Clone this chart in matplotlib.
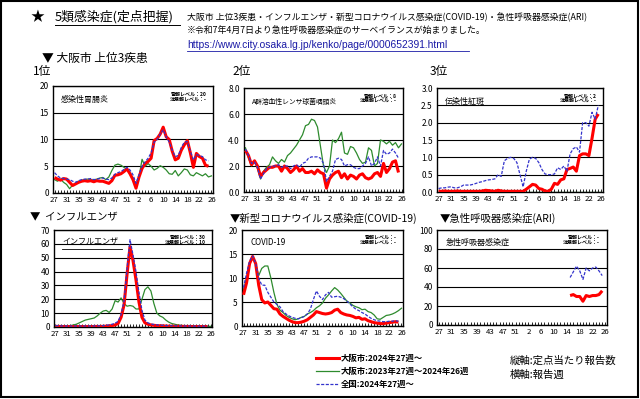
import matplotlib
matplotlib.use("Agg")
import matplotlib.pyplot as plt
from matplotlib.lines import Line2D
from matplotlib.patches import Rectangle

plt.rcParams['font.family'] = ['Noto Sans CJK JP', 'DejaVu Sans']

weeks = [27, 28, 29, 30, 31, 32, 33, 34, 35, 36, 37, 38, 39, 40, 41, 42, 43, 44, 45, 46,
         47, 48, 49, 50, 51, 52, 53, 1, 2, 3, 4, 5, 6, 7, 8, 9, 10, 11, 12, 13,
         14, 15, 16, 17, 18, 19, 20, 21, 22, 23, 24, 25, 26]

# 1位 感染性胃腸炎
p1_red = [2.9, 2.6, 2.4, 2.7, 2.6, 2.0, 1.4, 1.7, 2.0, 2.2,
          2.3, 2.2, 2.3, 2.1, 2.3, 2.2, 2.2, 2.0, 1.8, 2.3,
          3.3, 3.4, 3.6, 4.0, 4.5, 3.6, 2.5, 0.9, 3.0, 4.6,
          5.5, 5.9, 6.5, 9.8, 10.2, 11.0, 12.3, 10.5, 10.0, 7.8,
          6.2, 6.5, 8.0, 9.0, 9.8, 7.5, 4.8, 7.4, 6.8, 6.5, 5.2, 5.0]
p1_blue = [3.8, 3.2, 2.8, 2.7, 2.6, 2.5, 2.2, 2.0, 2.3, 2.5,
           2.6, 2.6, 2.7, 2.5, 2.6, 2.7, 2.8, 2.6, 2.5, 2.8,
           3.5, 3.8, 4.0, 4.4, 4.8, 4.3, 3.4, 1.8, 3.4, 5.0,
           5.8, 6.5, 7.5, 9.5, 10.0, 11.0, 11.8, 10.5, 9.5, 8.0,
           6.8, 7.0, 8.5, 9.5, 9.6, 7.8, 6.2, 7.2, 7.0, 6.8, 6.2, 6.0]
p1_green = [2.5, 2.2, 2.6, 2.0, 1.6, 0.8, 1.5, 1.8, 2.2, 2.4,
            2.5, 2.6, 2.5, 2.4, 2.6, 2.8, 2.9, 2.5, 3.0, 4.2,
            5.2, 5.4, 5.2, 4.8, 4.4, 3.6, 2.5, 1.3, 3.0, 6.3,
            5.0, 5.5, 5.0, 4.3, 4.6, 5.1, 4.8, 4.3, 3.6, 3.5,
            4.2, 3.2, 3.8, 4.5, 4.3, 3.4, 3.2, 3.8, 3.5, 3.2, 3.6, 3.0, 3.2]

# 2位 A群溶血性レンサ球菌咽頭炎
p2_red = [3.2, 2.8, 2.1, 2.4, 2.0, 1.2, 1.5, 1.7, 1.9, 1.9,
          2.0, 2.0, 1.6, 2.0, 1.8, 1.5, 1.7, 2.0, 1.6, 1.8,
          1.5, 1.5, 1.6, 1.4, 1.7, 1.5, 1.4, 0.3, 1.0, 1.3,
          1.5, 1.6, 1.1, 1.4, 1.0, 1.3, 1.2, 1.0, 1.3, 1.4,
          1.1, 1.0, 1.1, 1.4, 1.5, 1.2, 2.2, 1.5, 1.8, 2.3, 2.4, 1.5]
p2_blue = [3.3, 2.8, 2.2, 2.3, 1.9, 1.0, 1.4, 1.8, 1.9, 2.0,
           2.0, 2.1, 1.9, 2.0, 2.0, 1.8, 2.0, 2.1, 1.9, 2.2,
           2.3, 2.6, 2.7, 2.7, 2.7, 2.6, 2.2, 0.8, 1.2, 1.6,
           2.5, 2.6, 2.5, 2.0, 2.1, 2.1, 1.9, 1.8, 1.8, 2.0,
           2.2, 2.7, 2.0, 2.2, 2.7, 2.0, 3.2, 2.9, 3.0, 3.3, 3.0, 2.6]
p2_green = [3.4, 2.6, 2.0, 2.4, 1.8, 1.0, 1.6, 1.9, 2.1, 2.7,
            2.4, 2.2, 2.5, 2.3, 2.8, 3.0, 3.3, 3.6, 4.0, 4.4,
            5.1, 5.2, 5.6, 5.5, 5.0, 3.5, 2.0, 1.5, 2.0, 4.0,
            3.8, 4.1, 4.6, 3.0, 2.9, 3.5, 3.4, 3.0, 2.5, 2.2,
            2.3, 3.4, 3.2, 2.0, 2.2, 4.0, 3.9, 3.7, 3.9, 3.6, 3.8, 3.4, 3.7]

# 3位 伝染性紅斑
p3_red = [0.02, 0.02, 0.03, 0.02, 0.02, 0.02, 0.03, 0.02, 0.02, 0.02,
          0.02, 0.02, 0.02, 0.02, 0.03, 0.05, 0.04, 0.03, 0.02, 0.05,
          0.03, 0.02, 0.02, 0.02, 0.02, 0.02, 0.02, 0.02, 0.08, 0.15,
          0.22, 0.20, 0.10, 0.08, 0.03, 0.02, 0.08, 0.25, 0.22, 0.35,
          0.38, 0.65, 0.68, 0.72, 0.60, 1.05, 1.10, 1.10, 1.05, 1.55, 2.10, 2.25]
p3_blue = [0.10, 0.12, 0.12, 0.14, 0.15, 0.12, 0.12, 0.15, 0.20, 0.20,
           0.20, 0.22, 0.25, 0.28, 0.30, 0.33, 0.35, 0.36, 0.38, 0.50,
           0.45, 0.90, 0.97, 1.00, 0.97, 0.85, 0.50, 0.15, 0.60, 0.95,
           1.00, 0.97, 0.85, 0.65, 0.52, 0.50, 0.50, 0.52, 0.70, 0.65,
           0.75, 0.60, 1.10, 1.25, 1.30, 1.15, 2.00, 2.00, 1.90, 2.30, 2.10, 2.50]
p3_green = [0.0, 0.0, 0.0, 0.0, 0.0, 0.0, 0.0, 0.0, 0.0, 0.0,
            0.0, 0.0, 0.0, 0.0, 0.0, 0.0, 0.0, 0.0, 0.0, 0.0,
            0.0, 0.0, 0.0, 0.0, 0.0, 0.0, 0.0, 0.0, 0.0, 0.0,
            0.0, 0.0, 0.0, 0.0, 0.0, 0.0, 0.0, 0.0, 0.0, 0.0,
            0.0, 0.0, 0.0, 0.0, 0.0, 0.0, 0.0, 0.0, 0.0, 0.0, 0.0, 0.0, 0.0]

# インフルエンザ
flu_red = [0.5, 0.4, 0.4, 0.3, 0.3, 0.3, 0.3, 0.3, 0.3, 0.3,
           0.3, 0.3, 0.3, 0.4, 0.4, 0.4, 0.5, 0.6, 0.8, 1.0,
           1.5, 2.5, 7.0, 16.0, 38.0, 58.0, 48.0, 34.0, 18.0, 7.0,
           3.0, 2.0, 1.5, 1.2, 1.0, 0.9, 0.8, 0.7, 0.6, 0.6,
           0.5, 0.5, 0.5, 0.4, 0.4, 0.4, 0.3, 0.3, 0.3, 0.3, 0.3, 0.3]
flu_blue = [1.0, 0.9, 0.8, 0.7, 0.7, 0.7, 0.7, 0.7, 0.7, 0.7,
            0.7, 0.7, 0.7, 0.8, 0.8, 0.9, 1.0, 1.2, 1.5, 2.0,
            2.8, 4.0, 9.0, 19.0, 42.0, 63.0, 52.0, 40.0, 25.0, 12.0,
            5.0, 3.0, 2.2, 1.8, 1.5, 1.3, 1.2, 1.0, 1.0, 0.9,
            0.9, 0.8, 0.8, 0.7, 0.7, 0.7, 0.6, 0.6, 0.6, 0.6, 0.6, 0.6]
flu_green = [0.5, 0.5, 0.5, 0.6, 0.8, 1.0, 1.5, 2.0, 3.0, 4.0,
             5.0, 5.5, 6.0, 6.5, 8.0, 10.0, 11.5, 12.0, 10.5, 13.0,
             19.0, 18.0, 21.0, 17.0, 15.0, 15.5, 15.0, 13.0, 13.0, 20.0,
             27.0, 29.0, 26.0, 17.0, 10.0, 8.0, 7.0, 5.0, 3.5, 2.5,
             2.0, 1.5, 1.2, 1.0, 1.0, 0.8, 0.8, 0.7, 0.6, 0.6, 0.5, 0.5, 0.5]

# COVID-19
cov_red = [6.5, 9.0, 13.0, 14.5, 13.0, 8.5, 5.5, 4.8, 5.0, 4.3,
           3.6, 3.5, 2.5, 2.0, 1.6, 1.2, 0.9, 0.7, 0.7, 0.8,
           1.0, 1.3, 1.8, 2.3, 3.0, 2.8, 2.6, 2.5, 2.6, 2.8,
           3.3, 3.5, 2.8, 2.5, 2.3, 2.2, 2.0, 1.7, 1.8, 1.4,
           1.5, 1.1, 0.9, 0.7, 0.6, 0.5, 0.5, 0.6, 0.7, 0.8, 0.9, 0.8]
cov_blue = [8.0, 11.0, 13.5, 14.6, 13.0, 10.0, 8.5, 8.5, 7.0, 6.0,
            5.0, 4.5, 4.0, 3.0, 2.5, 2.1, 1.8, 1.6, 1.5, 1.7,
            2.0, 2.5, 3.5, 5.5, 7.3, 6.2, 5.5, 6.5, 7.0, 6.0,
            6.1, 6.2, 6.0, 5.7, 5.2, 4.6, 4.0, 3.5, 3.2, 2.8,
            2.5, 2.0, 1.6, 1.3, 1.1, 1.0, 0.9, 0.9, 1.0, 1.0, 1.1, 1.0]
cov_green = [7.5, 10.0, 13.0, 14.5, 13.0, 10.5, 12.0, 12.5, 12.5, 10.0,
             7.0, 4.5, 3.3, 2.8, 2.2, 1.8, 1.5, 1.3, 1.5, 1.8,
             2.0, 2.5, 2.8, 3.2, 3.8, 4.2, 4.8, 5.8, 6.5, 7.3,
             8.0, 7.5, 6.8, 6.0, 5.2, 4.8, 4.3, 4.0, 3.8, 3.4,
             3.5, 3.0, 2.8, 2.3, 1.5, 1.4, 1.8, 2.2, 2.3, 2.5, 2.8, 3.2, 3.7]

# 急性呼吸器感染症 (ARI) - surveillance from week 15
ari_weeks = [15, 16, 17, 18, 19, 20, 21, 22, 23, 24, 25]
ari_red = [31, 32, 30, 30, 25, 31, 30, 31, 31, 32, 36]
ari_blue = [50, 56, 62, 57, 48, 60, 57, 60, 61, 57, 52]

RED = '#ff0000'
GREEN = '#2e8b2e'
BLUE = '#3333cc'

W, H = 640, 399
fig = plt.figure(figsize=(6.4, 3.99), dpi=100)


def rect(x0, y0, x1, y1):
    return [x0 / W, 1 - y1 / H, (x1 - x0) / W, (y1 - y0) / H]


def panel(r, ymax, ystep, fmt, red, blue, green, name, alert, start=0,
          underline=False, name_size=5.8):
    ax = fig.add_axes(rect(*r))
    n = len(weeks)
    if green is not None:
        ax.plot(list(range(len(green))), green, color=GREEN, lw=0.9, zorder=2)
    xr = list(range(start, start + len(red)))
    ax.plot(xr, red, color=RED, lw=2.2, zorder=3, solid_capstyle='butt')
    xb = list(range(start, start + len(blue)))
    ax.plot(xb, blue, color=BLUE, lw=0.9, ls=(0, (2.5, 1.2)), zorder=4)
    ax.set_xlim(-0.5, n - 0.5)
    ax.set_ylim(0, ymax)
    yt = [i * ystep for i in range(int(round(ymax / ystep)) + 1)]
    ax.set_yticks(yt)
    ax.set_yticklabels([fmt.format(v) for v in yt], fontsize=6)
    ax.set_xticks(list(range(0, n, 4)))
    ax.set_xticklabels([str(weeks[i]) for i in range(0, n, 4)], fontsize=5.6)
    ax.set_xticks(list(range(n)), minor=True)
    ax.tick_params(axis='x', which='both', direction='in', length=2, width=0.6, pad=2)
    ax.tick_params(axis='y', length=0, pad=3)
    ax.yaxis.grid(True, color='black', lw=0.8)
    ax.set_axisbelow(True)
    for s in ax.spines.values():
        s.set_color('black')
        s.set_linewidth(1.0)
    ax.text(0.05, 0.87, name, transform=ax.transAxes, fontsize=name_size, va='center', ha='left')
    if underline:
        ax.plot([0.05, 0.43], [0.80, 0.80], transform=ax.transAxes, color='black', lw=0.6)
    ax.text(0.96, 0.90, alert, transform=ax.transAxes, fontsize=3.6, va='center', ha='right',
            fontweight='bold', linespacing=0.9)
    return ax


panel((53, 86, 213, 193), 20, 5, '{:.0f}', p1_red, p1_blue, p1_green,
      '感染性胃腸炎', '警報レベル：20\n注意報レベル：-')
panel((244, 88, 403, 192), 8.0, 2.0, '{:.1f}', p2_red, p2_blue, p2_green,
      'A群溶血性レンサ球菌咽頭炎', '警報レベル：8\n注意報レベル：-', name_size=4.9)
panel((437, 88, 603, 192), 3.0, 0.5, '{:.1f}', p3_red, p3_blue, p3_green,
      '伝染性紅斑', '警報レベル：2\n注意報レベル：-')
panel((54, 230, 212, 327), 70, 10, '{:.0f}', flu_red, flu_blue, flu_green,
      'インフルエンザ', '警報レベル：30\n注意報レベル：10', underline=True)
panel((242, 230, 403, 326), 20, 5, '{:.0f}', cov_red, cov_blue, cov_green,
      'COVID-19', '警報レベル：-\n注意報レベル：-')
panel((437, 230, 607, 325), 100, 20, '{:.0f}', ari_red, ari_blue, None,
      '急性呼吸器感染症', '警報レベル：-\n注意報レベル：-', start=weeks.index(ari_weeks[0], 27))


def ftext(x, y, s, **kw):
    return fig.text(x / W, 1 - y / H, s, **kw)


# header
ftext(37, 17, '★', fontsize=10, va='center', ha='center')
ftext(55, 17, '5類感染症(定点把握)', fontsize=9.3, va='center', ha='left')
fig.add_artist(Line2D([55 / W, 180 / W], [1 - 25 / H, 1 - 25 / H], color='black', lw=0.7))
ftext(187, 17, '大阪市 上位3疾患・インフルエンザ・新型コロナウイルス感染症(COVID-19)・急性呼吸器感染症(ARI)',
      fontsize=6.4, va='center', ha='left')
ftext(187, 31, '※令和7年4月7日より急性呼吸器感染症のサーベイランスが始まりました。',
      fontsize=6.4, va='center', ha='left')
ftext(187, 45, 'https://www.city.osaka.lg.jp/kenko/page/0000652391.html',
      fontsize=7.4, va='center', ha='left', color='#1a1aa6', family=['Liberation Sans', 'DejaVu Sans'])
fig.add_artist(Line2D([187 / W, 469 / W], [1 - 51 / H, 1 - 51 / H], color='#1a1aa6', lw=0.6))

ftext(42, 58, '▼ 大阪市 上位3疾患', fontsize=8.5, va='center', ha='left')
ftext(33, 72, '1位', fontsize=8.5, va='center', ha='left')
ftext(232, 72, '2位', fontsize=8.5, va='center', ha='left')
ftext(430, 72, '3位', fontsize=8.5, va='center', ha='left')
ftext(30, 217, '▼  インフルエンザ', fontsize=7.5, va='center', ha='left')
ftext(230, 218, '▼新型コロナウイルス感染症(COVID-19)', fontsize=7.5, va='center', ha='left')
ftext(440, 218, '▼急性呼吸器感染症(ARI)', fontsize=7.5, va='center', ha='left')

# legend
handles = [Line2D([], [], color=RED, lw=2.2),
           Line2D([], [], color=GREEN, lw=0.9),
           Line2D([], [], color=BLUE, lw=0.9, ls=(0, (2.5, 1.2)))]
labels = ['大阪市:2024年27週～', '大阪市:2023年27週～2024年26週', '全国:2024年27週～']
fig.legend(handles, labels, loc='upper left', bbox_to_anchor=(316 / W, 1 - 354 / H),
           frameon=False, handlelength=2.7, handletextpad=0.3,
           labelspacing=0.45, borderpad=0, borderaxespad=0,
           prop={'weight': 'bold', 'size': 6})

ftext(510, 361, '縦軸:定点当たり報告数', fontsize=7.5, va='center', ha='left')
ftext(510, 375, '横軸:報告週', fontsize=7.5, va='center', ha='left')

# outer frame
fig.add_artist(Rectangle((0.001, 0.004), 0.996, 0.994, transform=fig.transFigure,
                         fill=False, edgecolor='black', lw=1.5))

fig.savefig('out.png', dpi=100)
